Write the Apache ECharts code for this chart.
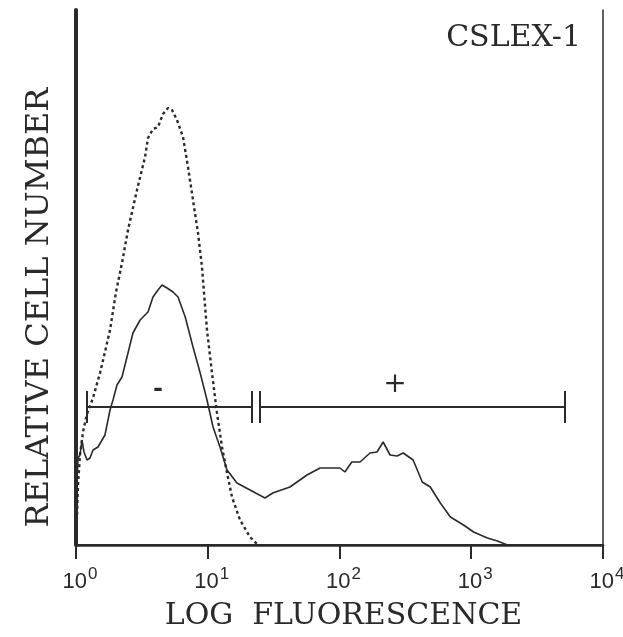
<!DOCTYPE html>
<html>
<head>
<meta charset="utf-8">
<script src="https://cdn.jsdelivr.net/npm/echarts@6/dist/echarts.min.js"></script>
<style>
  html, body { margin: 0; padding: 0; background: #fff; }
  #main { width: 623px; height: 637px; }
</style>
</head>
<body>
<div id="main"></div>
<script>
// 荧光强度 (x) 与 相对细胞数 (y)
const controlX = [1.0, 1.018, 1.036, 1.072, 1.13, 1.212, 1.346, 1.521, 1.659, 1.812, 2.012, 2.234, 2.481, 2.904, 3.341, 3.52, 3.841, 4.192, 4.575, 4.993, 5.355, 5.843, 6.489, 7.082, 7.728, 8.433, 9.045, 9.366, 9.87, 10.77, 11.75, 12.83, 14.0, 15.28, 17.57, 20.93, 24.07];
const controlY = [0, 30, 60, 90, 113, 131, 147, 172, 193, 215, 253, 282, 315, 355, 388, 407, 416, 418, 431, 437, 435, 425, 408, 378, 345, 312, 278, 252, 215, 172, 132, 98, 72, 48, 25, 8, 0];

const cslexX = [1.0, 1.018, 1.036, 1.072, 1.11, 1.15, 1.212, 1.277, 1.346, 1.469, 1.659, 1.812, 1.909, 2.047, 2.234, 2.481, 2.705, 3.067, 3.52, 3.841, 4.192, 4.497, 4.908, 5.447, 5.944, 6.745, 7.728, 8.76, 9.87, 10.97, 12.38, 14.0, 16.66, 20.93, 27.19, 31.15, 42.04, 56.66, 71.24, 100.9, 109.9, 124.0, 143.1, 170.5, 192.6, 214.5, 242.0, 273.6, 304.5, 362.2, 424.8, 488.8, 582.6, 694.5, 873.7, 1041, 1326, 1580, 1883];
const cslexY = [0, 65, 87, 90, 105, 93, 85, 87, 95, 98, 110, 135, 145, 160, 168, 192, 212, 225, 233, 248, 255, 260, 257, 253, 248, 228, 198, 172, 145, 118, 98, 75, 62, 55, 47, 52, 58, 70, 77, 77, 73, 83, 83, 92, 93, 103, 90, 89, 92, 85, 63, 58, 42, 28, 20, 13, 7, 4, 0];

// 门控区间
const gateLabels = ['-', '+'];
const gateFrom = [1.212, 24.93];
const gateTo = [21.67, 5147];
const gateMarkX = [4.19, 264];
const gateLevel = 138;

const xTicks = [1, 10, 100, 1000, 10000];

const SERIF = '"DejaVu Serif", "Liberation Serif", serif';
const SANS = '"Liberation Sans", Arial, sans-serif';
const INK = '#2a2a2a';

const zip = (xs, ys) => xs.map((x, i) => [x, ys[i]]);

const chart = echarts.init(document.getElementById('main'));

chart.setOption({
  backgroundColor: '#fff',
  animation: false,
  title: {
    text: 'CSLEX-1',
    right: 37,
    top: 18,
    textStyle: { fontFamily: SERIF, fontSize: 30, fontWeight: 'normal', color: INK }
  },
  grid: { left: 76, right: 20, top: 10, bottom: 92, outerBoundsMode: 'none', containLabel: false },
  xAxis: [{
    type: 'log',
    logBase: 10,
    min: xTicks[0],
    max: xTicks[xTicks.length - 1],
    name: 'LOG  FLUORESCENCE',
    nameLocation: 'middle',
    nameGap: 56,
    nameTextStyle: { fontFamily: SERIF, fontSize: 30, color: INK, padding: [0, 0, 0, 8] },
    axisLine: { lineStyle: { color: INK, width: 2 } },
    axisTick: { length: 14, lineStyle: { color: INK, width: 2 } },
    splitLine: { show: false },
    axisLabel: {
      margin: 21,
      padding: [0, 0, 0, 8],
      formatter: v => '{b|10}{s|' + Math.round(Math.log10(v)) + '}',
      rich: {
        b: { fontFamily: SANS, fontSize: 22, color: INK, lineHeight: 26, verticalAlign: 'bottom' },
        s: { fontFamily: SANS, fontSize: 17, color: INK, padding: [0, 0, 10, 1], verticalAlign: 'bottom' }
      }
    }
  }, {
    type: 'log',
    position: 'top',
    min: xTicks[0],
    max: xTicks[xTicks.length - 1],
    axisLine: { lineStyle: { color: INK, width: 2.5 } },
    axisTick: { show: false },
    axisLabel: { show: false },
    splitLine: { show: false }
  }],
  yAxis: [{
    type: 'value',
    min: 0,
    max: 535,
    name: 'RELATIVE CELL NUMBER',
    nameLocation: 'middle',
    nameGap: 20,
    nameTextStyle: { fontFamily: SERIF, fontSize: 32, color: INK, padding: [0, 60, 0, 0] },
    axisLine: { show: true, onZero: false, lineStyle: { color: INK, width: 4 } },
    axisTick: { show: false },
    axisLabel: { show: false },
    splitLine: { show: false }
  }, {
    type: 'value',
    position: 'right',
    min: 0,
    max: 535,
    axisLine: { show: true, onZero: false, lineStyle: { color: INK, width: 1.5 } },
    axisTick: { show: false },
    axisLabel: { show: false },
    splitLine: { show: false }
  }],
  series: [{
    name: 'control',
    type: 'line',
    showSymbol: false,
    data: zip(controlX, controlY),
    lineStyle: { color: INK, width: 2.4, type: [3, 3] }
  }, {
    name: 'CSLEX-1',
    type: 'line',
    showSymbol: false,
    data: zip(cslexX, cslexY),
    lineStyle: { color: INK, width: 1.6 }
  }, {
    name: 'gates',
    type: 'custom',
    encode: { x: [0, 2], y: 1 },
    data: gateFrom.map((f, i) => [f, gateLevel, gateTo[i]]),
    renderItem: (params, api) => {
      const i = params.dataIndex;
      const a = api.coord([gateFrom[i], gateLevel]);
      const b = api.coord([gateTo[i], gateLevel]);
      const m = api.coord([gateMarkX[i], gateLevel]);
      const h = 16;
      const st = { stroke: INK, lineWidth: 2 };
      return {
        type: 'group',
        children: [
          { type: 'line', shape: { x1: a[0], y1: a[1], x2: b[0], y2: b[1] }, style: st },
          { type: 'line', shape: { x1: a[0], y1: a[1] - h, x2: a[0], y2: a[1] + h }, style: st },
          { type: 'line', shape: { x1: b[0], y1: b[1] - h, x2: b[0], y2: b[1] + h }, style: st },
          {
            type: 'text',
            x: m[0],
            y: m[1] - (i === 0 ? 17 : 22),
            style: {
              text: gateLabels[i],
              fill: INK,
              fontFamily: SERIF,
              fontSize: i === 0 ? 24 : 28,
              fontWeight: i === 0 ? 'bold' : 'normal',
              align: 'center',
              verticalAlign: 'middle'
            }
          }
        ]
      };
    }
  }]
});
</script>
</body>
</html>
